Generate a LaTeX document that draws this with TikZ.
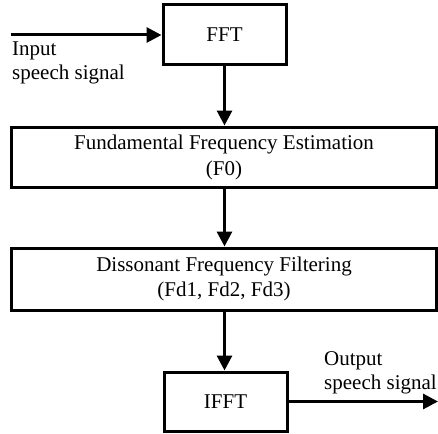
\documentclass[tikz,border=0pt]{standalone}
\usepackage{fontspec}
\setmainfont{Liberation Serif}
\usetikzlibrary{arrows.meta}
\begin{document}
\begin{tikzpicture}[x=1pt,y=-1pt,
  every node/.style={font=\fontsize{21}{24}\selectfont},
  block/.style={draw, line width=3pt, rectangle, inner sep=0pt,
    align=center, minimum height=60pt},
  flow/.style={line width=3pt, -{Triangle[length=15pt,width=15pt]}},
  caption/.style={anchor=north west, align=left, inner sep=0pt}
]
\useasboundingbox (0,0) rectangle (438,433);

% processing chain
\node[block, minimum width=123pt] (fft) at (224.5,35) {FFT};
\node[block, minimum width=425pt, font=\fontsize{21}{26}\selectfont] (f0) at (224,157)
  {Fundamental Frequency Estimation\\(F0)};
\node[block, minimum width=425pt, minimum height=62pt, font=\fontsize{21}{25}\selectfont] (fd) at (224,279)
  {Dissonant Frequency Filtering\\(Fd1, Fd2, Fd3)};
\node[block, minimum width=123pt, minimum height=59pt] (ifft) at (225.5,401.5) {IFFT};

% signal ends
\coordinate (src) at (11,35);
\coordinate (dst) at (438,401.5);

\node[caption] (inlab) at (12,42) {Input\\speech signal};
\node[caption] (outlab) at (324,351) {Output\\speech signal};

% connectors
\draw[flow] (src) -- (fft.west);
\draw[flow] (fft.south) -- (fft.south |- f0.north);
\draw[flow] (f0.south -| fft.south) -- (fft.south |- fd.north);
\draw[flow] (fd.south -| fft.south) -- (fft.south |- ifft.north);
\draw[flow] (ifft.east) -- (dst);
\end{tikzpicture}
\end{document}
